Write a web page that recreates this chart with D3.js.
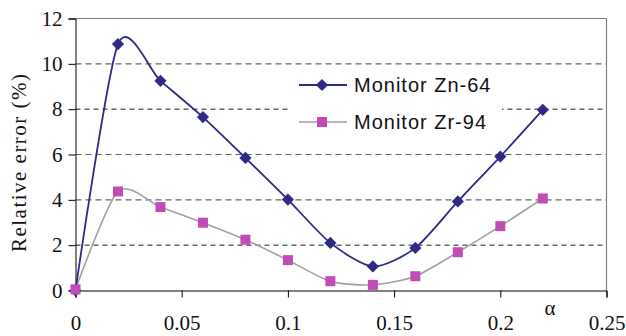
<!DOCTYPE html>
<html><head><meta charset="utf-8">
<script src="https://cdn.jsdelivr.net/npm/d3@7"></script>
<style>body{margin:0;background:#fff}svg{display:block}</style>
</head><body>
<svg id="c" width="626" height="336"></svg>
<script>
const alphaValues = [0, 0.02, 0.04, 0.06, 0.08, 0.10, 0.12, 0.14, 0.16, 0.18, 0.20, 0.22];
const znValues = [0, 10.87, 9.25, 7.65, 5.85, 4.01, 2.10, 1.06, 1.88, 3.93, 5.91, 7.97];
const zrValues = [0.05, 4.37, 3.68, 2.99, 2.24, 1.34, 0.41, 0.25, 0.63, 1.69, 2.84, 4.06];
const xTicks = [0, 0.05, 0.1, 0.15, 0.2, 0.25];
const xTickLabels = ["0", "0.05", "0.1", "0.15", "0.2", "0.25"];
const yTicks = [0, 2, 4, 6, 8, 10, 12];
const seriesNames = ["Monitor Zn-64", "Monitor Zr-94"];

const SERIF = "Liberation Serif, DejaVu Serif, serif";
const SANS = "Liberation Sans, Arial, sans-serif";
const svg = d3.select("#c");
const x = d3.scaleLinear().domain([0, 0.25]).range([75.5, 606.5]);
const y = d3.scaleLinear().domain([0, 12]).range([290.5, 18.5]);

// gridlines
svg.append("g").selectAll("line").data(yTicks.filter(d => d > 0 && d < 12)).join("line")
  .attr("x1", x(0)).attr("x2", x(0.25))
  .attr("y1", d => y(d)).attr("y2", d => y(d))
  .attr("stroke", d => (d === 8 || d === 2) ? "#000" : "#666")
  .attr("stroke-width", d => (d === 8 || d === 2) ? 0.9 : 1.2)
  .attr("stroke-dasharray", d => (d === 8 || d === 2) ? "5,4" : "6,4");

// top & right border
svg.append("line").attr("x1", x(0)).attr("x2", x(0.25)).attr("y1", y(12)).attr("y2", y(12))
  .attr("stroke", "#808080").attr("stroke-width", 1.2);
svg.append("line").attr("x1", x(0.25)).attr("x2", x(0.25)).attr("y1", y(12)).attr("y2", y(0))
  .attr("stroke", "#808080").attr("stroke-width", 1.2);

// axes
const xAxis = d3.axisBottom(x).tickValues(xTicks).tickFormat((d, i) => xTickLabels[i]).tickSizeOuter(0).tickSize(7).tickPadding(18);
const gx = svg.append("g").attr("transform", `translate(0,${y(0)})`).call(xAxis);
gx.attr("font-family", SERIF).attr("font-size", 21);
gx.selectAll("text").style("font-family", SERIF).style("font-size", "21px").attr("fill", "#111");
gx.selectAll("line,path").attr("stroke", "#000");

const yAxis = d3.axisLeft(y).tickValues(yTicks).tickSizeOuter(0).tickSize(7).tickPadding(6);
const gy = svg.append("g").attr("transform", `translate(${x(0)},0)`).call(yAxis);
gy.attr("font-family", SERIF).attr("font-size", 21);
gy.selectAll("text").style("font-family", SERIF).style("font-size", "21px").attr("fill", "#111");
gy.selectAll("line,path").attr("stroke", "#000");

// axis titles
svg.append("text").style("font-family", SERIF).style("font-size", "21px")
  .attr("transform", "translate(26,163) rotate(-90)")
  .attr("text-anchor", "middle")
  .attr("textLength", 178).attr("fill", "#111").text("Relative error (%)");
svg.append("text").style("font-family", SERIF).style("font-size", "21px")
  .attr("x", 550).attr("y", 315).attr("text-anchor", "middle")
  .attr("fill", "#111").text("α");

const znColor = "#2e2a86", zrColor = "#c04cb4", zrLine = "#a0a0a0";
const line = d3.line().x(d => x(d[0])).y(d => y(d[1])).curve(d3.curveCardinal.tension(0.25));
const zn = alphaValues.map((a, i) => [a, znValues[i]]);
const zr = alphaValues.map((a, i) => [a, zrValues[i]]);

svg.append("path").datum(zr).attr("d", line).attr("fill", "none").attr("stroke", zrLine).attr("stroke-width", 1.6);
svg.append("path").datum(zn).attr("d", line).attr("fill", "none").attr("stroke", znColor).attr("stroke-width", 1.8);

const diamond = d3.symbol().type(d3.symbolDiamond2).size(95);
svg.append("g").selectAll("path").data(zn).join("path")
  .attr("transform", d => `translate(${x(d[0])},${y(d[1])})`).attr("d", diamond).attr("fill", znColor);
svg.append("g").selectAll("rect").data(zr).join("rect")
  .attr("x", d => x(d[0]) - 5).attr("y", d => y(d[1]) - 5).attr("width", 10).attr("height", 10).attr("fill", zrColor);

// legend
const lg = svg.append("g");
lg.append("rect").attr("x", 291).attr("y", 69).attr("width", 211).attr("height", 70).attr("fill", "#fff");
const legendY = [85, 122];
const legendLine = [znColor, zrLine];
seriesNames.forEach((name, i) => {
  lg.append("line").attr("x1", 299).attr("x2", 347).attr("y1", legendY[i]).attr("y2", legendY[i])
    .attr("stroke", legendLine[i]).attr("stroke-width", i === 0 ? 1.8 : 1.6);
  if (i === 0) lg.append("path").attr("transform", `translate(322,${legendY[i]})`).attr("d", diamond).attr("fill", znColor);
  else lg.append("rect").attr("x", 317).attr("y", legendY[i] - 5).attr("width", 10).attr("height", 10).attr("fill", zrColor);
  lg.append("text").style("font-family", SANS).style("font-size", "20px").attr("x", 354).attr("y", legendY[i] + 6.5)
    .attr("letter-spacing", 1).attr("fill", "#111").text(name);
});
</script>
</body></html>
